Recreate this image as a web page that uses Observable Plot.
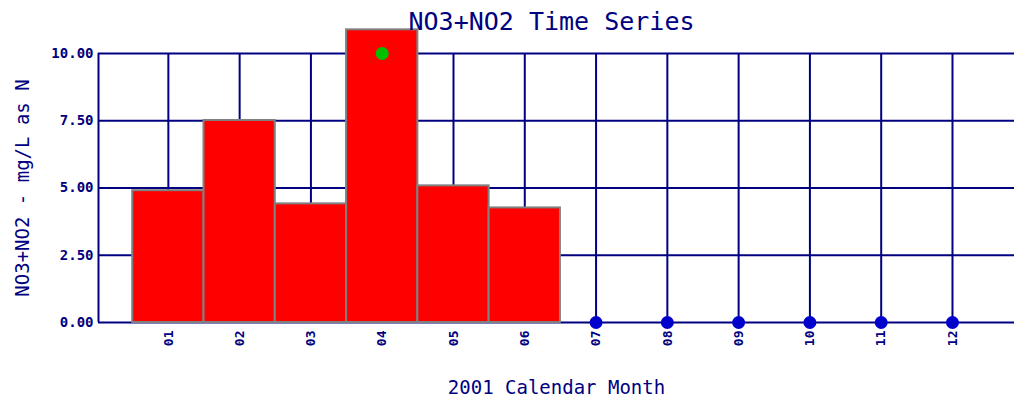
<!DOCTYPE html>
<html>
<head>
<meta charset="utf-8">
<script src="https://cdn.jsdelivr.net/npm/d3@7"></script>
<script src="https://cdn.jsdelivr.net/npm/@observablehq/plot@0.6"></script>
<style>
  html, body { margin: 0; padding: 0; background: #fff; }
  #chart svg { display: block; }
</style>
</head>
<body>
<div id="chart"></div>
<script>
// ---- data ----
const months = ["01", "02", "03", "04", "05", "06", "07", "08", "09", "10", "11", "12"];
const barMonths = ["01", "02", "03", "04", "05", "06"];
const barValues = [4.90, 7.51, 4.41, 10.88, 5.08, 4.26];
const greenMonths = ["04"];
const greenValues = [10.0];
const blueMonths = ["07", "08", "09", "10", "11", "12"];
const blueValues = [0, 0, 0, 0, 0, 0];
const yTicks = [0, 2.5, 5, 7.5, 10];
const titleText = "NO3+NO2 Time Series";
const xLabel = "2001 Calendar Month";
const yLabel = "NO3+NO2 - mg/L as N";

// ---- derived tables ----
const monthNums = months.map(m => +m);
const bars = barMonths.map((m, i) => ({m: +m, value: barValues[i]}));
const greenPts = greenMonths.map((m, i) => ({m: +m, value: greenValues[i]}));
const bluePts = blueMonths.map((m, i) => ({m: +m, value: blueValues[i]}));
const xDomain = [0.02, 12.87];

const navy = "#000080";
const font = "'DejaVu Sans Mono', monospace";

const chart = Plot.plot({
  width: 1014,
  height: 400,
  marginLeft: 98,
  marginRight: 0,
  marginTop: 53,
  marginBottom: 78,
  style: {fontFamily: font, background: "#fff", overflow: "visible"},
  x: {type: "linear", domain: xDomain},
  y: {domain: [0, 10]},
  marks: [
    Plot.ruleY(yTicks, {stroke: navy, strokeWidth: 2}),
    Plot.ruleX(monthNums, {stroke: navy, strokeWidth: 2}),
    Plot.ruleX([xDomain[0]], {stroke: navy, strokeWidth: 2}),
    Plot.rect(bars, {
      x1: d => d.m - 0.5, x2: d => d.m + 0.5,
      y1: 0, y2: "value",
      fill: "#ff0000", stroke: "#808080", strokeWidth: 2
    }),
    Plot.dot(greenPts, {x: "m", y: "value", r: 6.5, fill: "#00c000", stroke: "none"}),
    Plot.dot(bluePts, {x: "m", y: "value", r: 6.5, fill: "#0000cc", stroke: "none"}),
    Plot.axisY({
      ticks: yTicks, tickFormat: d3.format(".2f"), tickSize: 0, tickPadding: 5,
      fill: navy, fontSize: 14, fontWeight: "bold", label: null
    }),
    Plot.axisX({
      ticks: monthNums, tickFormat: d => String(d).padStart(2, "0"),
      tickRotate: -90, tickSize: 0, tickPadding: 8,
      fill: navy, fontSize: 13, fontWeight: "bold", label: null
    }),
    Plot.text([titleText], {
      frameAnchor: "top", dy: -32, dx: -5, lineAnchor: "middle", textAnchor: "middle",
      fill: navy, fontSize: 25, fontFamily: font
    }),
    Plot.text([xLabel], {
      frameAnchor: "bottom", dy: 65, lineAnchor: "middle", textAnchor: "middle",
      fill: navy, fontSize: 19, fontFamily: font
    }),
    Plot.text([yLabel], {
      frameAnchor: "left", dx: -76, rotate: -90, lineAnchor: "middle", textAnchor: "middle",
      fill: navy, fontSize: 19, fontFamily: font
    })
  ]
});
document.getElementById("chart").appendChild(chart);
</script>
</body>
</html>
